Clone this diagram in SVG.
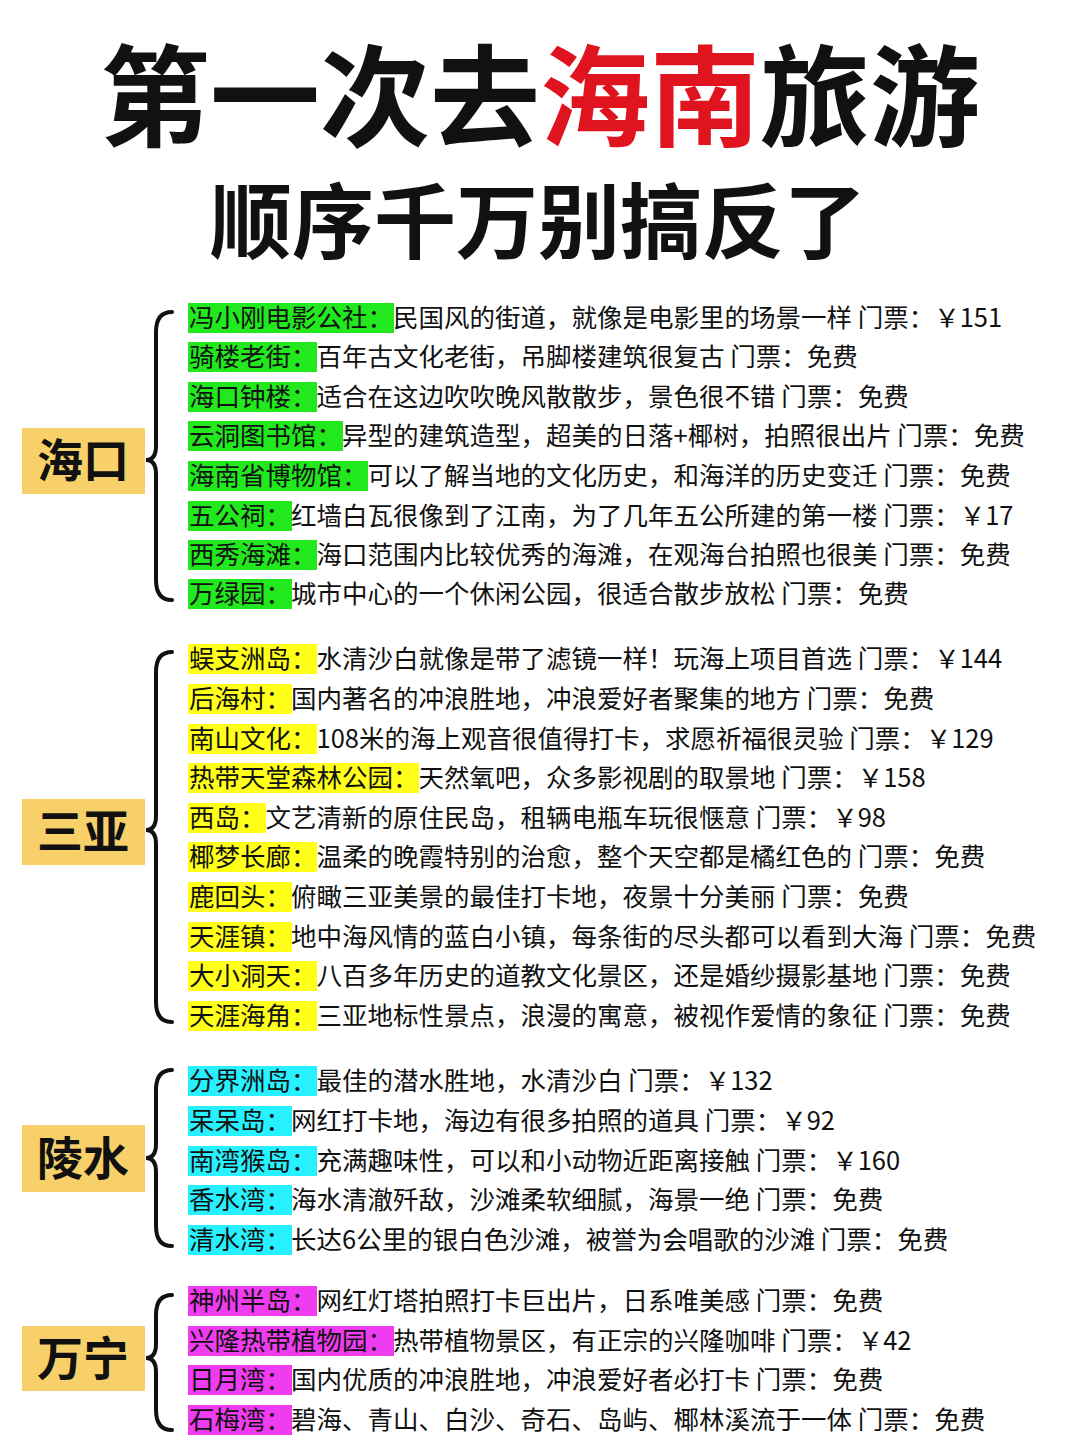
<svg xmlns="http://www.w3.org/2000/svg" width="1080" height="1440" viewBox="0 0 1080 1440">
<style>
.t{font-family:"Noto Sans CJK SC","Noto Sans",sans-serif;font-size:25.5px;fill:#111}
.lab{font-family:"Noto Sans CJK SC",sans-serif;font-size:46px;font-weight:700;fill:#111}
.lb{fill:#F8D06A}
.br{fill:none;stroke:#111;stroke-width:4;stroke-linecap:round}
.g{fill:#22E81E}.y{fill:#FFFF1A}.c{fill:#27F0FF}.m{fill:#F03CF0}
</style>
<rect width="1080" height="1440" fill="#fff"/>
<g id="title">
<text x="540" y="138" text-anchor="middle" font-family="Noto Sans CJK SC,sans-serif" font-size="110" font-weight="700" fill="#111">第一次去<tspan fill="#E0141E">海南</tspan>旅游</text>
<text x="538" y="252" text-anchor="middle" font-family="Noto Sans CJK SC,sans-serif" font-size="82" font-weight="700" fill="#111">顺序千万别搞反了</text>
</g>
<g id="connectors">
<path class="br" d="M172,312 Q156,312 156,332 L156,446 Q156,460 146,460 Q156,460 156,474 L156,580 Q156,600 172,600"/>
<path class="br" d="M172,652 Q156,652 156,672 L156,816 Q156,830 146,830 Q156,830 156,844 L156,1002 Q156,1022 172,1022"/>
<path class="br" d="M172,1070 Q156,1070 156,1090 L156,1144 Q156,1158 146,1158 Q156,1158 156,1172 L156,1226 Q156,1246 172,1246"/>
<path class="br" d="M172,1295 Q156,1295 156,1315 L156,1344 Q156,1358 146,1358 Q156,1358 156,1372 L156,1410 Q156,1430 172,1430"/>
</g>
<g id="haikou">
<rect class="lb" x="22" y="428" width="123" height="66"/><text class="lab" x="83" y="477" text-anchor="middle">海口</text>
<rect class="g" x="188" y="303" width="206" height="30"/><text class="t" x="189" y="327">冯小刚电影公社：民国风的街道，就像是电影里的场景一样 门票：￥151</text>
<rect class="g" x="188" y="342" width="129" height="30"/><text class="t" x="189" y="366">骑楼老街：百年古文化老街，吊脚楼建筑很复古 门票：免费</text>
<rect class="g" x="188" y="382" width="129" height="30"/><text class="t" x="189" y="406">海口钟楼：适合在这边吹吹晚风散散步，景色很不错 门票：免费</text>
<rect class="g" x="188" y="421" width="155" height="30"/><text class="t" x="189" y="445">云洞图书馆：异型的建筑造型，超美的日落+椰树，拍照很出片 门票：免费</text>
<rect class="g" x="188" y="461" width="180" height="30"/><text class="t" x="189" y="485">海南省博物馆：可以了解当地的文化历史，和海洋的历史变迁 门票：免费</text>
<rect class="g" x="188" y="501" width="104" height="30"/><text class="t" x="189" y="525">五公祠：红墙白瓦很像到了江南，为了几年五公所建的第一楼 门票：￥17</text>
<rect class="g" x="188" y="540" width="129" height="30"/><text class="t" x="189" y="564">西秀海滩：海口范围内比较优秀的海滩，在观海台拍照也很美 门票：免费</text>
<rect class="g" x="188" y="579" width="104" height="30"/><text class="t" x="189" y="603">万绿园：城市中心的一个休闲公园，很适合散步放松 门票：免费</text>
</g>
<g id="sanya">
<rect class="lb" x="22" y="799" width="123" height="66"/><text class="lab" x="83" y="848" text-anchor="middle">三亚</text>
<rect class="y" x="188" y="644" width="129" height="30"/><text class="t" x="189" y="668">蜈支洲岛：水清沙白就像是带了滤镜一样！玩海上项目首选  门票：￥144</text>
<rect class="y" x="188" y="684" width="104" height="30"/><text class="t" x="189" y="708">后海村：国内著名的冲浪胜地，冲浪爱好者聚集的地方 门票：免费</text>
<rect class="y" x="188" y="724" width="129" height="30"/><text class="t" x="189" y="748">南山文化：108米的海上观音很值得打卡，求愿祈福很灵验 门票：￥129</text>
<rect class="y" x="188" y="763" width="231" height="30"/><text class="t" x="189" y="787">热带天堂森林公园：天然氧吧，众多影视剧的取景地 门票：￥158</text>
<rect class="y" x="188" y="803" width="78" height="30"/><text class="t" x="189" y="827">西岛：文艺清新的原住民岛，租辆电瓶车玩很惬意 门票：￥98</text>
<rect class="y" x="188" y="842" width="129" height="30"/><text class="t" x="189" y="866">椰梦长廊：温柔的晚霞特别的治愈，整个天空都是橘红色的 门票：免费</text>
<rect class="y" x="188" y="882" width="104" height="30"/><text class="t" x="189" y="906">鹿回头：俯瞰三亚美景的最佳打卡地，夜景十分美丽 门票：免费</text>
<rect class="y" x="188" y="922" width="104" height="30"/><text class="t" x="189" y="946">天涯镇：地中海风情的蓝白小镇，每条街的尽头都可以看到大海 门票：免费</text>
<rect class="y" x="188" y="961" width="129" height="30"/><text class="t" x="189" y="985">大小洞天：八百多年历史的道教文化景区，还是婚纱摄影基地 门票：免费</text>
<rect class="y" x="188" y="1001" width="129" height="30"/><text class="t" x="189" y="1025">天涯海角：三亚地标性景点，浪漫的寓意，被视作爱情的象征 门票：免费</text>
</g>
<g id="lingshui">
<rect class="lb" x="22" y="1125" width="123" height="67"/><text class="lab" x="83" y="1175" text-anchor="middle">陵水</text>
<rect class="c" x="188" y="1066" width="129" height="30"/><text class="t" x="189" y="1090">分界洲岛：最佳的潜水胜地，水清沙白 门票：￥132</text>
<rect class="c" x="188" y="1106" width="104" height="30"/><text class="t" x="189" y="1130">呆呆岛：网红打卡地，海边有很多拍照的道具  门票：￥92</text>
<rect class="c" x="188" y="1146" width="129" height="30"/><text class="t" x="189" y="1170">南湾猴岛：充满趣味性，可以和小动物近距离接触 门票：￥160</text>
<rect class="c" x="188" y="1185" width="104" height="30"/><text class="t" x="189" y="1209">香水湾：海水清澈歼敌，沙滩柔软细腻，海景一绝 门票：免费</text>
<rect class="c" x="188" y="1225" width="104" height="30"/><text class="t" x="189" y="1249">清水湾：长达6公里的银白色沙滩，被誉为会唱歌的沙滩 门票：免费</text>
</g>
<g id="wanning">
<rect class="lb" x="22" y="1326" width="123" height="65"/><text class="lab" x="83" y="1375" text-anchor="middle">万宁</text>
<rect class="m" x="188" y="1286" width="129" height="30"/><text class="t" x="189" y="1310">神州半岛：网红灯塔拍照打卡巨出片，日系唯美感  门票：免费</text>
<rect class="m" x="188" y="1326" width="206" height="30"/><text class="t" x="189" y="1350">兴隆热带植物园：热带植物景区，有正宗的兴隆咖啡  门票：￥42</text>
<rect class="m" x="188" y="1365" width="104" height="30"/><text class="t" x="189" y="1389">日月湾：国内优质的冲浪胜地，冲浪爱好者必打卡 门票：免费</text>
<rect class="m" x="188" y="1405" width="104" height="30"/><text class="t" x="189" y="1429">石梅湾：碧海、青山、白沙、奇石、岛屿、椰林溪流于一体 门票：免费</text>
</g>
</svg>
